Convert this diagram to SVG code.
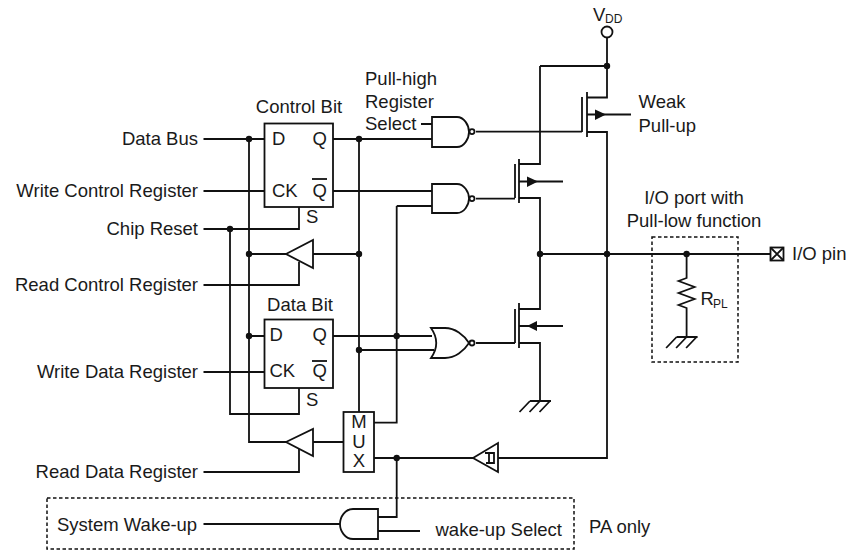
<svg xmlns="http://www.w3.org/2000/svg" width="846" height="550" viewBox="0 0 846 550">
<style>
text{font-family:"Liberation Sans",Arial,sans-serif;font-size:18.5px;fill:#1a1a1a}
.e{text-anchor:end}.m{text-anchor:middle}
.w{fill:none;stroke:#111;stroke-width:1.8;stroke-linejoin:miter}
.g{fill:#fff;stroke:#111;stroke-width:1.8}
.d{fill:none;stroke:#111;stroke-width:1.5;stroke-dasharray:3.5 2.5}
.b{fill:#111;stroke:none}
.s{font-size:12px}
</style>
<defs>
<circle id="j" r="3.2" class="b"/>
<path id="gnd" class="w" d="M-10 0H11M-20.500 11L-10 0M-10.500 11L0 0M-0.500 11L10 0"/>
</defs>
<g id="connectors">
<path class="w" d="M203.500 139H264M249 139V442H286M203.500 191H264M333 139H432M359 139V412M333 191H432M203.500 229H299V207M230 229V414H299V388M313 254H359M249 254H286M203.500 285H299V262"/>
<path class="w" d="M249 336H264M203.500 372H264M333 336H432M359 350H434M396.700 206H432M396.700 206V422.700H374M343 442H313M203.500 472H299V449M374 458H473M498 458H607V132H587M396.700 458V517H378M421 124H432M476 131.600H582M476 198.600H515M476 343H515"/>
<path class="w" d="M607 38V97.500H587M540 66H607M540 66V164H519M519 198H540V309H519M519 343H540V401M540 254H770M631 114.500H587M563 181.500H519M563 326H519"/>
<path class="w" d="M203.500 524H340M378 531H420"/>
<path class="w" d="M686.600 254V278L678.600 281L694.600 287L678.600 293L694.600 299L678.600 305L686.600 308V337"/>
<use href="#j" x="249" y="139"/><use href="#j" x="359" y="139"/><use href="#j" x="230" y="229"/><use href="#j" x="249" y="254"/><use href="#j" x="359" y="254"/><use href="#j" x="249" y="336"/><use href="#j" x="396.700" y="336"/><use href="#j" x="359" y="350"/><use href="#j" x="396.700" y="458"/><use href="#j" x="607" y="66"/><use href="#j" x="540" y="254"/><use href="#j" x="607" y="254"/><use href="#j" x="686.600" y="254"/>
</g>
<g id="control-bit"><rect class="g" x="264.500" y="123.500" width="68.500" height="83.500"/><text x="272" y="145">D</text><text x="312.500" y="145">Q</text><text x="272" y="197">CK</text><text x="312.500" y="197">Q</text><path class="w" d="M312 179H327"/><text x="306" y="223">S</text><text class="m" x="299" y="112.500">Control Bit</text></g>
<g id="data-bit"><rect class="g" x="264.500" y="319.500" width="68.500" height="68.500"/><text x="269.500" y="341">D</text><text x="312.500" y="341">Q</text><text x="269.500" y="377">CK</text><text x="312.500" y="377">Q</text><path class="w" d="M312 361H327"/><text x="306" y="406">S</text><text class="m" x="300" y="310.500">Data Bit</text></g>
<g id="buf1"><path class="g" d="M286 254L313 240V268Z"/></g>
<g id="buf2"><path class="g" d="M286 442L313 429V456Z"/></g>
<g id="schmitt"><path class="g" d="M473 458L498 443V472Z"/><path class="w" d="M485 453H494V463H486M489 453V463"/></g>
<g id="mux"><rect class="g" x="343.500" y="412" width="30.500" height="60"/><text class="m" x="359" y="428">M</text><text class="m" x="359" y="447.500">U</text><text class="m" x="359" y="466.500">X</text></g>
<g id="nand1"><path class="g" d="M432 117H457C464 117 469 125 469 132C469 139 464 147 457 147H432Z"/><circle class="g" cx="472" cy="131.600" r="2.500" stroke-width="1.200"/></g>
<g id="nand2"><path class="g" d="M432 184H457C464 184 469 192 469 198.600C469 205 464 213 457 213H432Z"/><circle class="g" cx="472" cy="198.600" r="2.500" stroke-width="1.200"/></g>
<g id="nor"><path class="g" d="M431 328H445C455 328 464 335 469 343C464 351 455 358 445 358H431C438 348 438 338 431 328Z"/><circle class="g" cx="472" cy="343" r="2.500" stroke-width="1.200"/></g>
<g id="and"><path class="g" d="M378 509H353C345 509 340 517 340 524C340 531 345 539 353 539H378Z"/></g>
<g id="pmos"><path class="w" d="M582 97V132M587 92V137"/><path class="b" d="M595 109.500L606 114.500L595 120Z"/><text x="638.500" y="108">Weak</text><text x="638.500" y="131.500">Pull-up</text></g>
<g id="mos2"><path class="w" d="M515 164V198M519 159V203"/><path class="b" d="M527 176.500L538 181.500L527 187Z"/></g>
<g id="mos3"><path class="w" d="M515 309V343M519 303V348"/><path class="b" d="M537 321L527 326L537 331Z"/></g>
<g id="gnd1"><use href="#gnd" x="540" y="401"/></g>
<g id="gnd2"><use href="#gnd" x="686.600" y="337"/></g>
<g id="vdd"><circle class="g" cx="607" cy="32" r="5.500"/><text x="593" y="20.500">V</text><text class="s" x="605" y="23">DD</text></g>
<g id="rpl"><text x="700.500" y="305">R</text><text class="s" x="713" y="308">PL</text></g>
<g id="pin"><rect class="g" x="770.500" y="247.500" width="13" height="13"/><path class="w" d="M770.500 247.500L783.500 260.500M783.500 247.500L770.500 260.500"/><text x="792" y="260">I/O pin</text></g>
<g id="regions"><rect class="d" x="652" y="237" width="86" height="125"/><rect class="d" x="47" y="498" width="527" height="51"/></g>
<g id="labels">
<text class="e" x="198" y="145">Data Bus</text>
<text class="e" x="198" y="197">Write Control Register</text>
<text class="e" x="198" y="235">Chip Reset</text>
<text class="e" x="198" y="290.500">Read Control Register</text>
<text class="e" x="198" y="378">Write Data Register</text>
<text class="e" x="198" y="478">Read Data Register</text>
<text x="57" y="530.500">System Wake-up</text>
<text x="435.500" y="536">wake-up Select</text>
<text x="589" y="533">PA only</text>
<text x="365" y="85">Pull-high</text><text x="365" y="108">Register</text><text x="365" y="129.500">Select</text>
<text class="m" x="694" y="204">I/O port with</text><text class="m" x="694" y="226.500">Pull-low function</text>
</g>
</svg>
